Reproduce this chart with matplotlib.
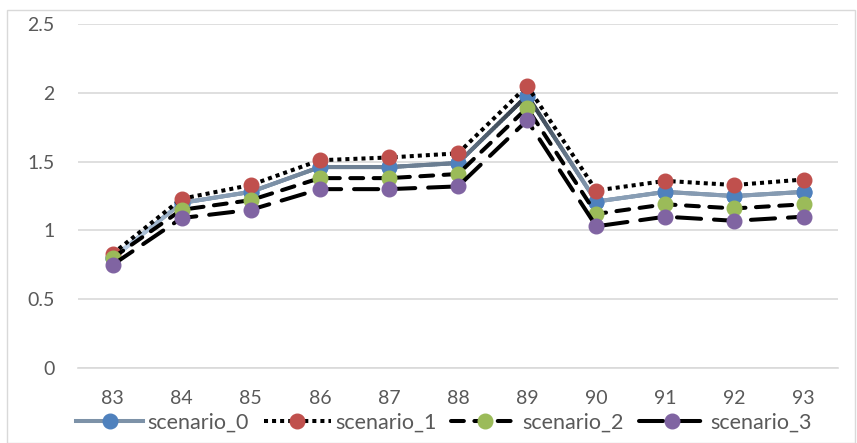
import numpy as np
import matplotlib
matplotlib.use('Agg')
import matplotlib.pyplot as plt
from matplotlib.collections import LineCollection
from matplotlib.colors import LinearSegmentedColormap
from matplotlib.patches import Rectangle

# category labels and series values
categories = ['83', '84', '85', '86', '87', '88', '89', '90', '91', '92', '93']
scenario_0 = [0.80, 1.20, 1.28, 1.46, 1.46, 1.49, 1.98, 1.21, 1.28, 1.25, 1.28]
scenario_1 = [0.83, 1.23, 1.33, 1.51, 1.53, 1.56, 2.05, 1.29, 1.36, 1.33, 1.37]
scenario_2 = [0.80, 1.15, 1.22, 1.38, 1.38, 1.41, 1.89, 1.12, 1.19, 1.16, 1.19]
scenario_3 = [0.75, 1.09, 1.15, 1.30, 1.30, 1.32, 1.80, 1.03, 1.10, 1.07, 1.10]

plt.rcParams['font.family'] = ['Lato', 'DejaVu Sans']

fig = plt.figure(figsize=(8.57, 4.43), dpi=100)
ax = fig.add_axes([0.091, 0.169, 0.887, 0.777])

x = np.arange(len(categories))
lw = 2.9
ms = 10.5

# scenario_0: solid line with a blue-grey gradient (darker at higher values)
line0, = ax.plot(x, scenario_0, color='#7d92a8', lw=lw, marker='o', ms=ms,
                 mfc='#4f81bd', mec='#4f81bd', label='scenario_0', zorder=3)
cmap = LinearSegmentedColormap.from_list('g', ['#c6d9ee', '#8ea4bc', '#5d6e80', '#2a323c'])
xs, ys = [], []
for i in range(len(x) - 1):
    t = np.linspace(0, 1, 30)
    xs.append(x[i] + (x[i + 1] - x[i]) * t)
    ys.append(scenario_0[i] + (scenario_0[i + 1] - scenario_0[i]) * t)
xs = np.concatenate(xs)
ys = np.concatenate(ys)
pts = np.column_stack([xs, ys]).reshape(-1, 1, 2)
segs = np.concatenate([pts[:-1], pts[1:]], axis=1)
lc = LineCollection(segs, cmap=cmap, norm=plt.Normalize(0.8, 2.0), linewidths=lw,
                    capstyle='round', zorder=3.1)
lc.set_array((ys[:-1] + ys[1:]) / 2)
ax.add_collection(lc)
ax.plot(x, scenario_0, ls='none', marker='o', ms=ms, mfc='#4f81bd', mec='#4f81bd', zorder=3.2)

ax.plot(x, scenario_1, color='black', lw=lw, ls=(0, (1, 1)), marker='o', ms=ms,
        mfc='#c0504d', mec='#c0504d', label='scenario_1', zorder=4)
ax.plot(x, scenario_2, color='black', lw=lw, ls=(0, (3.2, 2.6)), dash_capstyle='round',
        marker='o', ms=ms, mfc='#9bbb59', mec='#9bbb59', label='scenario_2', zorder=5)
ax.plot(x, scenario_3, color='black', lw=lw, ls=(0, (6, 3.2)), dash_capstyle='round',
        marker='o', ms=ms, mfc='#8064a2', mec='#8064a2', label='scenario_3', zorder=6)

ax.set_xlim(-0.5, len(x) - 0.5)
ax.set_ylim(0, 2.5)
ax.set_yticks([0, 0.5, 1, 1.5, 2, 2.5])
ax.set_yticklabels(['0', '0.5', '1', '1.5', '2', '2.5'])
ax.set_xticks(x)
ax.set_xticklabels(categories)
ax.tick_params(length=0, labelsize=14, colors='#595959', pad=17)
ax.tick_params(axis='x', pad=16)
ax.grid(axis='y', color='#d9d9d9', lw=1.2)
ax.set_axisbelow(True)
for s in ['left', 'right', 'top']:
    ax.spines[s].set_visible(False)
ax.spines['bottom'].set_color('#d9d9d9')
ax.spines['bottom'].set_linewidth(1.2)

fig.legend(loc='lower center', bbox_to_anchor=(0.518, -0.02), ncol=4, frameon=False,
           fontsize=15.5, handlelength=3.1, columnspacing=0.7, handletextpad=0.2,
           labelcolor='#595959')

fig.patches.append(Rectangle((0.008, 0.0), 0.99, 0.978, transform=fig.transFigure,
                             fill=False, ec='#d9d9d9', lw=1))

fig.savefig('out.png', dpi=100)
